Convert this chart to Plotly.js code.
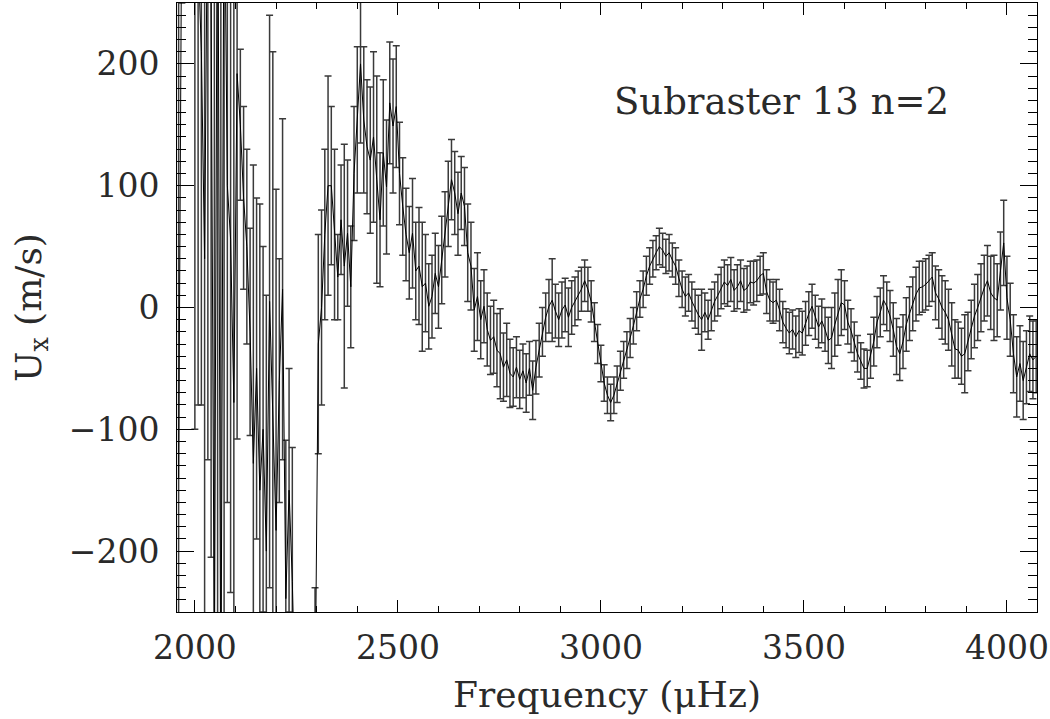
<!DOCTYPE html>
<html>
<head>
<meta charset="utf-8">
<script src="https://cdn.plot.ly/plotly-3.0.1.min.js"></script>
<style>html,body{margin:0;padding:0;background:#fff;}#chart{width:1050px;height:719px;}</style>
</head>
<body>
<div id="chart"></div>
<script>
// Frequency grid (μHz)
const freq = [
1960,1968,1976,1984,1992,2000,2008,2016,2024,2032,
2040,2048,2056,2064,2072,2080,2088,2096,2104,2112,
2120,2128,2136,2144,2152,2160,2168,2176,2184,2192,
2200,2208,2216,2224,2232,2240,2248,2256,2264,2272,
2280,2288,2296,2304,2312,2320,2328,2336,2344,2352,
2360,2368,2376,2384,2392,2400,2408,2416,2424,2432,
2440,2448,2456,2464,2472,2480,2488,2496,2504,2512,
2520,2528,2536,2544,2552,2560,2568,2576,2584,2592,
2600,2608,2616,2624,2632,2640,2648,2656,2664,2672,
2680,2688,2696,2704,2712,2720,2728,2736,2744,2752,
2760,2768,2776,2784,2792,2800,2808,2816,2824,2832,
2840,2848,2856,2864,2872,2880,2888,2896,2904,2912,
2920,2928,2936,2944,2952,2960,2968,2976,2984,2992,
3000,3008,3016,3024,3032,3040,3048,3056,3064,3072,
3080,3088,3096,3104,3112,3120,3128,3136,3144,3152,
3160,3168,3176,3184,3192,3200,3208,3216,3224,3232,
3240,3248,3256,3264,3272,3280,3288,3296,3304,3312,
3320,3328,3336,3344,3352,3360,3368,3376,3384,3392,
3400,3408,3416,3424,3432,3440,3448,3456,3464,3472,
3480,3488,3496,3504,3512,3520,3528,3536,3544,3552,
3560,3568,3576,3584,3592,3600,3608,3616,3624,3632,
3640,3648,3656,3664,3672,3680,3688,3696,3704,3712,
3720,3728,3736,3744,3752,3760,3768,3776,3784,3792,
3800,3808,3816,3824,3832,3840,3848,3856,3864,3872,
3880,3888,3896,3904,3912,3920,3928,3936,3944,3952,
3960,3968,3976,3984,3992,4000,4008,4016,4024,4032,
4040,4048,4056,4064,4072
];
// U_x velocity (m/s)
const ux = [
-140,350,420,380,460,300,290,210,40,380,
250,-300,420,-350,380,100,56,-78,192,150,
90,50,-20,-128,-50,-150,-100,-200,5,-80,
-183,-60,15,-239,-150,-225,-400,-450,-380,-420,
-500,-400,-330,-30,0,60,100,100,60,25,
72,34,61,17,110,154,200,154,132,121,
140,105,72,127,99,168,149,165,110,83,
60,45,61,30,34,17,20,1,9,28,
17,39,60,85,105,94,77,94,83,45,
34,-2,9,-10,1,-18,-27,-24,-35,-38,
-49,-43,-54,-57,-49,-59,-52,-62,-50,-68,
-49,-35,-20,-8,1,6,-3,-10,-2,2,
-8,0,5,10,15,22,15,5,-12,-30,
-46,-62,-72,-78,-72,-63,-52,-43,-35,-25,
-15,-3,7,15,26,34,40,45,50,47,
42,45,39,34,24,15,9,12,5,-1,
-6,-10,-4,-10,-2,5,10,16,21,18,
23,14,17,22,14,16,21,20,22,26,
28,13,6,4,6,-2,-12,-17,-21,-18,
-24,-19,-21,-13,-5,1,-8,-16,-11,-18,
-27,-25,-14,-4,4,2,-12,-19,-28,-38,
-44,-50,-50,-40,-28,-12,-4,6,1,-7,
-18,-32,-38,-28,-14,-5,3,11,16,17,
19,22,25,12,7,0,-4,-10,-22,-34,
-35,-40,-38,-28,-18,-7,0,8,16,22,
12,8,6,30,53,8,-10,-38,-57,-46,
-60,-49,-38,-43,-40
];
// 1-sigma errors (m/s)
const uxErr = [
400,100,120,100,150,400,370,290,300,505,
455,700,700,700,650,260,290,330,300,62,
75,80,85,245,140,235,150,210,235,290,
280,100,140,130,100,110,120,150,110,150,
200,130,100,90,80,70,90,65,70,35,
45,100,60,50,55,60,65,60,55,60,
70,85,55,60,55,50,55,50,42,40,
38,38,45,40,48,53,40,35,34,33,
34,36,35,35,33,34,34,30,32,40,
36,34,36,32,30,30,28,30,30,37,
28,30,28,24,25,24,22,24,22,24,
22,22,20,20,22,34,22,22,23,22,
24,22,20,20,18,17,18,17,16,16,
15,15,15,15,15,15,16,15,15,16,
15,16,15,15,16,15,15,14,15,14,
14,15,14,15,15,15,16,15,16,16,
16,25,16,16,17,16,17,17,18,17,
18,17,18,17,18,18,17,18,17,16,
17,18,17,17,17,17,17,16,17,16,
17,18,18,18,18,18,18,17,18,18,
19,25,26,27,27,20,18,18,16,15,
15,16,15,18,20,21,20,20,20,21,
22,23,22,22,22,22,22,22,22,21,
21,21,20,22,24,26,26,25,26,24,
23,23,32,24,24,26,27,28,27,29,
30,35,30,32,35,34,30,32,33,31,
32,30,31,32,30
];
const xTickVals = [2000, 2500, 3000, 3500, 4000];
const yTickVals = [-200, -100, 0, 100, 200];
const labelText = "Subraster 13 n=2";

const FONT = "DejaVu Serif, Liberation Serif, serif";
const TXT = "#2a2a2a";

const trace = {
  type: "scatter",
  mode: "lines",
  x: freq,
  y: ux,
  line: {color: "#000", width: 1},
  error_y: {type: "data", array: uxErr, visible: true, color: "#3a3a3a", thickness: 1.5, width: 3.5},
  hoverinfo: "skip",
  showlegend: false
};

const axisCommon = {
  showline: true, linecolor: "#000", linewidth: 1, mirror: "ticks",
  ticks: "inside", tickcolor: "#000", tickwidth: 1,
  showgrid: false, zeroline: false,
  tickfont: {family: FONT, size: 33, color: TXT},
  automargin: false
};

const layout = {
  width: 1050, height: 719,
  paper_bgcolor: "#fff", plot_bgcolor: "#fff",
  margin: {l: 177, r: 13, t: 3, b: 107},
  xaxis: Object.assign({}, axisCommon, {
    range: [1956, 4074],
    tickmode: "array", tickvals: xTickVals,
    ticklen: 12,
    ticklabelstandoff: 6,
    minor: {dtick: 100, tick0: 2000, ticklen: 6, ticks: "inside", tickcolor: "#000", tickwidth: 1, showgrid: false},
    title: {text: "Frequency (μHz)", font: {family: FONT, size: 36, color: TXT}, standoff: 16}
  }),
  yaxis: Object.assign({}, axisCommon, {
    range: [-250, 250],
    tickmode: "array", tickvals: yTickVals,
    ticklen: 17,
    ticklabelstandoff: 10,
    minor: {dtick: 10, tick0: 0, ticklen: 9, ticks: "inside", tickcolor: "#000", tickwidth: 1, showgrid: false},
    title: {text: "U<sub>x</sub> (m/s)", font: {family: FONT, size: 36, color: TXT}, standoff: 16}
  }),
  annotations: [{
    xref: "paper", yref: "paper", x: 0.703, y: 0.839,
    xanchor: "center", yanchor: "middle", showarrow: false,
    text: labelText,
    font: {family: FONT, size: 37, color: TXT}
  }]
};

Plotly.newPlot("chart", [trace], layout, {staticPlot: true, displayModeBar: false});
</script>
</body>
</html>
